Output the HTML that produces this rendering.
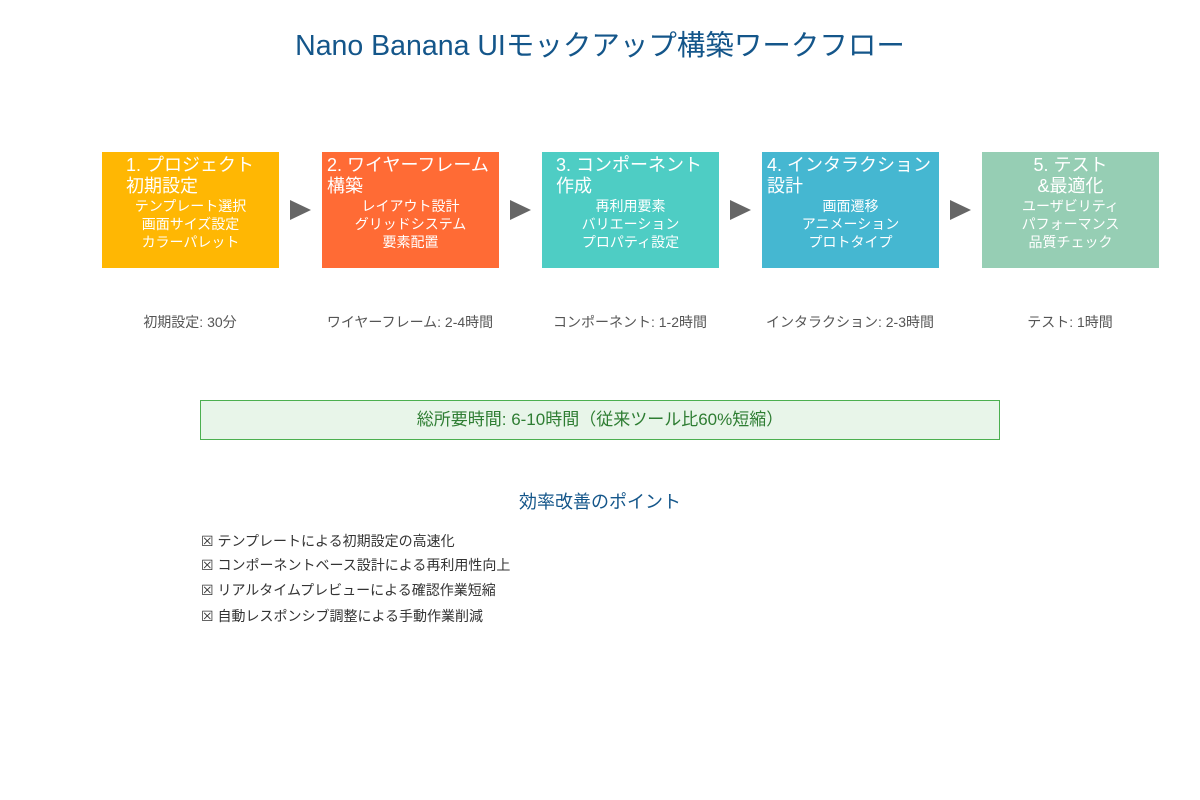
<!DOCTYPE html>
<html><head><meta charset="utf-8"><style>
body{margin:0;width:1200px;height:800px;background:#fff;position:relative;font-family:"Liberation Sans","Noto Sans CJK JP",sans-serif;overflow:hidden}
.a{position:absolute;white-space:nowrap}
.box{position:absolute;top:152px;width:177px;height:116px;color:#fff}
.h{position:absolute;top:3px;font-size:18px;line-height:21px}
.s{position:absolute;top:45px;left:0;width:177px;text-align:center;font-size:14px;line-height:18px}
.arr{position:absolute;top:200px;width:0;height:0;border-left:21px solid #666;border-top:10px solid transparent;border-bottom:10px solid transparent}
.t{position:absolute;top:312px;width:220px;text-align:center;font-size:14px;color:#555}
.li{position:absolute;left:201px;font-size:14px;color:#333}
</style></head><body>
<div class="a" style="left:0;width:1200px;text-align:center;top:23px;font-size:28.5px;color:#14568a">Nano Banana UIモックアップ構築ワークフロー</div>

<div class="box" style="left:102px;background:#FFB703"><div class="h" style="left:24px">1. プロジェクト<br>初期設定</div><div class="s">テンプレート選択<br>画面サイズ設定<br>カラーパレット</div></div>
<div class="box" style="left:322px;background:#FF6B35"><div class="h" style="left:5px">2. ワイヤーフレーム<br>構築</div><div class="s">レイアウト設計<br>グリッドシステム<br>要素配置</div></div>
<div class="box" style="left:542px;background:#4ECDC4"><div class="h" style="left:14px">3. コンポーネント<br>作成</div><div class="s">再利用要素<br>バリエーション<br>プロパティ設定</div></div>
<div class="box" style="left:762px;background:#45B7D1"><div class="h" style="left:5px">4. インタラクション<br>設計</div><div class="s">画面遷移<br>アニメーション<br>プロトタイプ</div></div>
<div class="box" style="left:982px;background:#96CEB4"><div class="h" style="left:0;width:177px;text-align:center">5. テスト<br>&amp;最適化</div><div class="s">ユーザビリティ<br>パフォーマンス<br>品質チェック</div></div>

<div class="arr" style="left:290px"></div>
<div class="arr" style="left:510px"></div>
<div class="arr" style="left:730px"></div>
<div class="arr" style="left:950px"></div>

<div class="t" style="left:80px">初期設定: 30分</div>
<div class="t" style="left:300px">ワイヤーフレーム: 2-4時間</div>
<div class="t" style="left:520px">コンポーネント: 1-2時間</div>
<div class="t" style="left:740px">インタラクション: 2-3時間</div>
<div class="t" style="left:960px">テスト: 1時間</div>

<div class="a" style="left:200px;top:400px;width:798px;height:38px;border:1px solid #4caf50;background:#e8f5e9;color:#2e7d32;font-size:17px;text-align:center;line-height:38px">総所要時間: 6-10時間（従来ツール比60%短縮）</div>

<div class="a" style="left:0;width:1200px;text-align:center;top:488px;font-size:18px;color:#14568a">効率改善のポイント</div>
<div class="li" style="top:531px">☒ テンプレートによる初期設定の高速化</div>
<div class="li" style="top:555px">☒ コンポーネントベース設計による再利用性向上</div>
<div class="li" style="top:580px">☒ リアルタイムプレビューによる確認作業短縮</div>
<div class="li" style="top:606px">☒ 自動レスポンシブ調整による手動作業削減</div>
</body></html>
